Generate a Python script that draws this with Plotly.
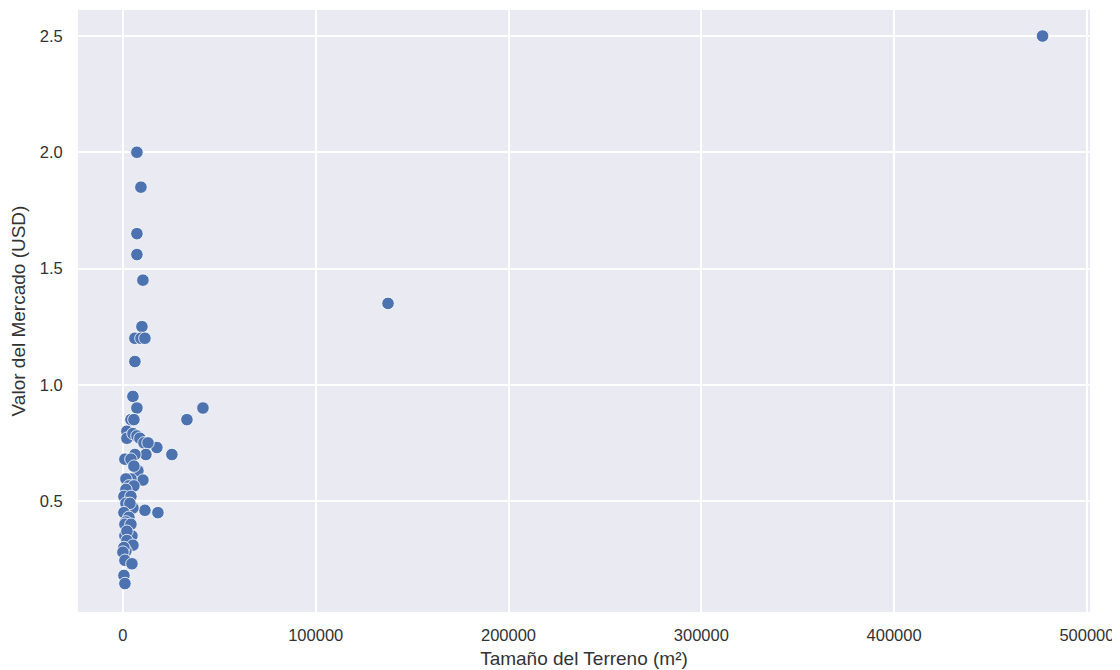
import plotly.graph_objects as go

tamano = [477000, 137500, 41500, 33200, 25400, 17600, 18150, 11400,
          7260, 9340, 7260, 7260, 10370, 9860, 6220, 9340, 11400, 6220,
          5190, 7260, 4150, 5700, 2070, 2070, 5190, 7260, 8800, 10900, 13000,
          11900, 6220, 1040, 4150, 7780, 10370, 4150, 1560, 5700, 3100, 5700,
          1560, 520, 4150, 1560, 5190, 3630, 520, 3100, 1560, 1040, 4150,
          1040, 4670, 2070, 2070, 5190, 1560, 520, 0, 1040, 4670, 520, 1040]
valor = [2.5, 1.35, 0.90, 0.85, 0.70, 0.73, 0.45, 0.46,
         2.0, 1.85, 1.65, 1.56, 1.45, 1.25, 1.2, 1.2, 1.2, 1.1,
         0.95, 0.90, 0.85, 0.85, 0.80, 0.77, 0.79, 0.78, 0.77, 0.75, 0.75,
         0.70, 0.70, 0.68, 0.68, 0.63, 0.59, 0.595, 0.595, 0.65, 0.565, 0.565,
         0.55, 0.52, 0.52, 0.49, 0.47, 0.49, 0.45, 0.43, 0.41, 0.40, 0.40,
         0.35, 0.35, 0.37, 0.33, 0.31, 0.285, 0.30, 0.28, 0.245, 0.23, 0.18, 0.145]

x_ticks = [0, 100000, 200000, 300000, 400000, 500000]
y_ticks = [0.5, 1.0, 1.5, 2.0, 2.5]

fig = go.Figure(go.Scatter(
    x=tamano, y=valor, mode="markers",
    marker=dict(color="#4C72B0", size=12.5, line=dict(color="white", width=0.8)),
    showlegend=False,
))

font = "Liberation Sans, Arial, sans-serif"
fig.update_layout(
    width=1120, height=670,
    margin=dict(l=70, r=38, t=2, b=66),
    paper_bgcolor="white", plot_bgcolor="#EAEAF2",
    font=dict(family=font, size=16.5, color="#333333"),
    xaxis=dict(
        range=[-23300, 501600], tickvals=x_ticks,
        ticktext=[str(v) for v in x_ticks],
        ticks="outside", ticklen=8, tickcolor="rgba(0,0,0,0)",
        gridcolor="white", gridwidth=1.5, zeroline=False, showline=False,
        title=dict(text="Tamaño del Terreno (m²)", font=dict(size=19), standoff=8),
        tickfont=dict(size=16.5),
    ),
    yaxis=dict(
        range=[0.0226, 2.612], tickvals=y_ticks,
        ticktext=[f"{v:.1f}" for v in y_ticks],
        ticks="outside", ticklen=11, tickcolor="rgba(0,0,0,0)",
        gridcolor="white", gridwidth=1.5, zeroline=False, showline=False,
        title=dict(text="Valor del Mercado (USD)", font=dict(size=19), standoff=10),
        tickfont=dict(size=16.5),
    ),
)

fig.write_html("out.html")
